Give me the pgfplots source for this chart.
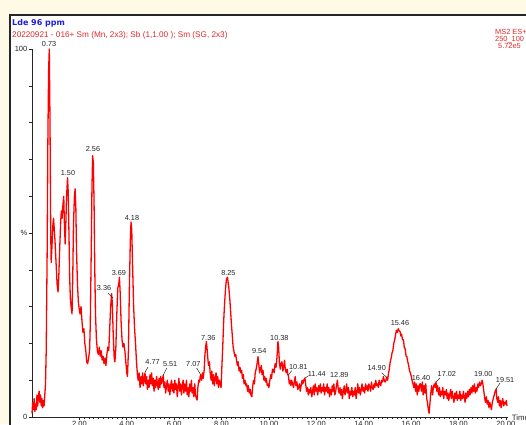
\documentclass[border=0pt]{standalone}
\usepackage{fontspec}
\setmainfont{Liberation Sans}
\newfontfamily\dejavu{DejaVu Sans}
\usepackage{pgfplots}
\usepackage{pgfplotstable}
\pgfplotsset{compat=1.18}
\definecolor{cream}{RGB}{255,250,230}
\definecolor{msred}{RGB}{255,0,0}
\definecolor{txtred}{RGB}{228,40,40}
\definecolor{txtblue}{RGB}{30,30,225}
\pgfplotstableread{
t v
0.00 1
0.03 4
0.06 2
0.09 5
0.12 1.5
0.15 3.5
0.18 2
0.21 6
0.24 3
0.27 5.5
0.30 7
0.33 4
0.36 6
0.39 3
0.42 5
0.45 2.5
0.48 4.5
0.51 3
0.54 6
0.57 9
0.60 18
0.64 45
0.67 75
0.70 94
0.73 100
0.76 80
0.79 50
0.81 42
0.84 46
0.88 52
0.91 54
0.94 51
0.97 48
1.00 44
1.03 40
1.06 36
1.10 34
1.13 38
1.17 46
1.21 53
1.24 56
1.27 54
1.31 58
1.34 60
1.37 52
1.40 47
1.43 53
1.46 60
1.50 65
1.53 61
1.56 50
1.59 38
1.62 32
1.65 30
1.69 28
1.72 38
1.75 52
1.79 60
1.82 62
1.85 57
1.88 45
1.92 36
1.96 31
2.00 29
2.03 28
2.07 30
2.11 26
2.15 23
2.19 24
2.23 20
2.27 18
2.31 15
2.35 14.5
2.39 16
2.43 18
2.46 25
2.50 45
2.53 62
2.56 71
2.59 69
2.62 58
2.65 40
2.68 28
2.72 21
2.76 18
2.80 17
2.84 19
2.88 16.5
2.92 18
2.96 15.5
3.00 16.5
3.04 14.5
3.08 16
3.12 14
3.16 17
3.20 19
3.24 18
3.28 24
3.32 30
3.36 33.5
3.39 31
3.43 22
3.47 16
3.50 15
3.54 19
3.58 28
3.62 35
3.66 36
3.69 38
3.72 34
3.76 26
3.80 21
3.84 19
3.88 20
3.92 18
3.96 15
4.00 12
4.03 11
4.07 18
4.11 35
4.15 48
4.18 53
4.21 51
4.25 40
4.29 30
4.33 24
4.37 20
4.41 15
4.45 11.5
4.48 10
4.52 12
4.56 8
4.60 11
4.63 9
4.67 12
4.70 8.5
4.74 10.5
4.77 12
4.80 9
4.84 11
4.87 7.5
4.91 10
4.94 8
4.98 11.5
5.01 9
5.05 12
5.08 8.5
5.12 10.5
5.15 7
5.19 10
5.22 8
5.26 11
5.29 9
5.33 7.5
5.36 10.5
5.40 8
5.43 11
5.47 9
5.50 10
5.54 11.4
5.57 8
5.61 9.5
5.64 6.5
5.68 8.5
5.71 10
5.75 7
5.78 9
5.82 6
5.85 8.5
5.89 10
5.92 7
5.96 9
5.99 6.5
6.03 10
6.06 7.5
6.10 9
6.13 5.5
6.17 8
6.20 10.5
6.24 7
6.27 9
6.31 6
6.34 8.5
6.38 10
6.41 6.5
6.45 9
6.48 7
6.52 10
6.55 6
6.59 8
6.62 5.5
6.66 9
6.69 7
6.73 10
6.76 6.5
6.80 8
6.83 5.5
6.87 9
6.90 6
6.94 5
6.97 4.6
7.00 8
7.04 10
7.07 9.5
7.10 11
7.13 11.4
7.16 10
7.20 12
7.23 10.5
7.27 13
7.30 17
7.33 19
7.36 20.5
7.39 18.5
7.42 16
7.45 14
7.49 15
7.52 12
7.56 10
7.59 12.5
7.63 9
7.66 11.5
7.70 8.5
7.73 10.5
7.77 12
7.80 9
7.84 11
7.87 8
7.91 10
7.94 9
7.98 8
8.01 13
8.05 19
8.09 26
8.13 31
8.17 35
8.21 37.5
8.25 38
8.28 36.5
8.31 35
8.35 32
8.38 29
8.42 25
8.45 22.5
8.49 19
8.52 18
8.56 16.5
8.60 17
8.63 15.5
8.67 14
8.70 15
8.74 12.5
8.78 13.5
8.81 12
8.85 12.7
8.88 10.5
8.92 11.5
8.95 9
8.99 10
9.03 8.5
9.06 9
9.10 7
9.13 8.5
9.17 6.5
9.21 7.5
9.24 6
9.28 5.5
9.31 8
9.35 10
9.39 9
9.42 12
9.46 13
9.50 14.5
9.54 16.4
9.57 14.5
9.61 12
9.64 13
9.68 14
9.71 11.5
9.75 12.7
9.79 10
9.82 11
9.86 9.5
9.89 10.5
9.93 8.5
9.97 9
10.00 8
10.04 10
10.08 11.5
10.11 10.5
10.15 13
10.19 12.8
10.22 12
10.26 14.5
10.30 13.5
10.33 15.4
10.36 18
10.38 20.5
10.41 19
10.44 15
10.48 13
10.51 14.5
10.55 15
10.59 12.5
10.62 13.5
10.66 15.4
10.69 13
10.73 12
10.77 13
10.80 11.4
10.82 11.4
10.86 9
10.89 10
10.93 8.5
10.96 10
11.00 9
11.04 8
11.07 9.5
11.11 11
11.14 8.5
11.18 9.5
11.22 7.5
11.25 8
11.29 9
11.32 7
11.36 8.5
11.40 10
11.43 9
11.47 10
11.52 10.6
11.55 9
11.59 7
11.63 8
11.66 6
11.70 7.5
11.73 6.5
11.77 8
11.81 5.5
11.84 7
11.88 8.5
11.91 6
11.95 9
11.99 7
12.02 8
12.06 6
12.10 8.5
12.13 7
12.17 9
12.20 6.5
12.24 8
12.28 7
12.31 9
12.35 6
12.38 8
12.42 7
12.46 9
12.49 6.5
12.53 8
12.56 5.5
12.60 7.5
12.64 6
12.67 8.5
12.71 7
12.74 9
12.78 6
12.82 7
12.85 8.5
12.89 10
12.92 8
12.96 6.5
13.00 8
13.03 6
13.07 7.5
13.10 5
13.14 7
13.18 8.5
13.21 6
13.25 7
13.28 9
13.32 6.5
13.36 8
13.39 5
13.43 7
13.46 6
13.50 8
13.54 5.5
13.57 7
13.61 6
13.64 8
13.68 5
13.72 7
13.75 9
13.79 6.5
13.82 8
13.86 6
13.90 7.5
13.93 9
13.97 7
14.00 8
14.04 6.5
14.08 9
14.11 7.5
14.15 8.5
14.18 7
14.22 9
14.26 8
14.29 7
14.33 9.5
14.36 8
14.40 7.5
14.44 9
14.47 8
14.51 10
14.54 8.5
14.58 9
14.62 8
14.65 10
14.69 9
14.72 8.5
14.76 10
14.80 9.5
14.83 11
14.87 10
14.90 9.5
14.94 10
14.97 10.8
15.01 10
15.05 12
15.08 13
15.12 15
15.16 16
15.20 17.5
15.23 18
15.27 20
15.31 21
15.35 22.5
15.38 23.6
15.42 23
15.46 24
15.49 23.5
15.53 23.3
15.57 22
15.60 22.5
15.64 21
15.68 21
15.71 19
15.75 18.5
15.79 16.5
15.82 16.5
15.86 15
15.90 14
15.93 12.7
15.97 12
16.01 11
16.04 10
16.08 9
16.12 8
16.15 9.5
16.19 7
16.22 9
16.26 6
16.30 8.5
16.33 7
16.37 9
16.40 9
16.44 7
16.48 9.5
16.51 6
16.55 8.5
16.58 6.5
16.62 9
16.66 5
16.69 4
16.73 2
16.76 1
16.80 4
16.84 7
16.87 8.5
16.91 6
16.94 8
16.98 9
17.02 8
17.05 9.5
17.09 7
17.12 8.5
17.16 6
17.20 8
17.23 5.5
17.27 7
17.31 6
17.34 8
17.38 5
17.41 7
17.45 6
17.49 7.5
17.52 5
17.56 6.5
17.59 4.5
17.63 6
17.67 7.5
17.70 5
17.74 7
17.77 5.5
17.81 4
17.85 6.5
17.88 5
17.92 7
17.95 4.5
17.99 6
18.03 5
18.06 7
18.10 4.5
18.13 6
18.17 5
18.21 7
18.24 5.5
18.28 4
18.31 6.5
18.35 5
18.39 7
18.42 5.5
18.46 7.5
18.49 6
18.53 8
18.57 6.5
18.60 8.5
18.64 7
18.67 9
18.71 6.5
18.75 8
18.78 7
18.82 9
18.85 8
18.89 9.5
18.93 8.5
18.96 9
19.00 10
19.03 9
19.07 7
19.11 5
19.14 4
19.18 5.5
19.21 3.5
19.25 4.5
19.29 2.5
19.32 4
19.36 3
19.39 2
19.43 4
19.47 5
19.51 6
19.55 7
19.59 7.6
19.62 5
19.66 4
19.69 5.5
19.73 3
19.77 4.5
19.80 2.5
19.84 4
19.87 5
19.91 3
19.95 4
19.98 3.5
20.02 4.5
20.05 3
}\chrom
\begin{document}
\begin{tikzpicture}[x=1pt,y=1pt]
\begin{scope}
\clip (0,0) rectangle (526,424);
\fill[cream] (0,0) rectangle (526,424);
\fill[white] (10,-5) rectangle (530,409);
\draw[black!85, line width=1.5pt] (10,-5) -- (10,409) -- (530,409);
\node[anchor=base west, inner sep=0pt, text=txtblue, font=\dejavu\bfseries\fontsize{8}{9}\selectfont] at (12,398.5) {Lde 96 ppm};
\node[anchor=base west, inner sep=0pt, text=txtred, font=\fontsize{8.2}{9}\selectfont] at (12,386.7) {20220921 - 016+ Sm (Mn, 2x3); Sb (1,1.00 ); Sm (SG, 2x3)};
\node[anchor=base west, inner sep=0pt, text=txtred, font=\fontsize{7.4}{8}\selectfont] at (495,389.5) {MS2 ES+};
\node[anchor=base west, inner sep=0pt, text=txtred, font=\fontsize{7.4}{8}\selectfont] at (495,382.8) {250\_100};
\node[anchor=base west, inner sep=0pt, text=txtred, font=\fontsize{7.4}{8}\selectfont] at (498,375.5) {5.72e5};
\node[anchor=west, inner sep=0pt, text=black!85, font=\fontsize{7.8}{8}\selectfont] at (511.7,6) {Time};
\begin{axis}[
  at={(32pt,7pt)}, anchor=south west,
  scale only axis, width=476.2pt, height=368pt,
  xmin=0, xmax=20.1, ymin=0, ymax=100,
  axis x line*=bottom, axis y line*=left,
  axis line style={-, black!85, line width=0.8pt},
  clip=false,
  tick align=outside,
  xtick={2,4,...,20},
  xticklabels={2.00,4.00,6.00,8.00,10.00,12.00,14.00,16.00,18.00,20.00},
  minor x tick num=9,
  ytick={0,10,...,100},
  yticklabels={0,,,,,\%,,,,,100},
  major tick length=3pt, minor tick length=1.6pt,
  tick style={black!85, line width=0.6pt},
  ticklabel style={font=\fontsize{7.5}{8}\selectfont, text=black!85},
  xticklabel style={inner sep=1pt},
  yticklabel style={inner sep=1.5pt},
]
\addplot[msred, line width=1.3pt, line join=round, no markers] table[x=t, y=v] {\chrom};
\begin{scope}[every node/.style={inner sep=0pt, text=black!85, font=\fontsize{7.3}{8}\selectfont}]
\node at (axis cs:0.72,101.4) {0.73};
\node at (axis cs:1.52,66.3) {1.50};
\node at (axis cs:2.575,72.8) {2.56};
\node at (axis cs:3.04,35.1) {3.36};
\node at (axis cs:3.67,39.1) {3.69};
\node at (axis cs:4.22,54.1) {4.18};
\node at (axis cs:5.09,15.0) {4.77};
\node at (axis cs:5.83,14.4) {5.51};
\node at (axis cs:6.81,14.4) {7.07};
\node at (axis cs:7.44,21.5) {7.36};
\node at (axis cs:8.29,39.2) {8.25};
\node at (axis cs:9.59,17.9) {9.54};
\node at (axis cs:10.44,21.5) {10.38};
\node at (axis cs:11.24,13.7) {10.81};
\node at (axis cs:12.02,11.7) {11.44};
\node at (axis cs:12.97,11.3) {12.89};
\node at (axis cs:14.55,13.2) {14.90};
\node at (axis cs:15.53,25.6) {15.46};
\node at (axis cs:16.42,10.6) {16.40};
\node at (axis cs:17.51,11.6) {17.02};
\node at (axis cs:19.05,11.6) {19.00};
\node at (axis cs:19.97,10.1) {19.51};
\end{scope}
\begin{scope}[black!85, line width=0.5pt]
\draw (axis cs:3.21,33.7) -- (axis cs:3.42,32.3);
\draw (axis cs:4.90,13.6) -- (axis cs:4.77,12.2);
\draw (axis cs:5.69,13.3) -- (axis cs:5.54,11.4);
\draw (axis cs:6.95,13.3) -- (axis cs:7.13,11.4);
\draw (axis cs:10.96,12.6) -- (axis cs:10.82,11.4);
\draw (axis cs:11.66,11.1) -- (axis cs:11.52,10.6);
\draw (axis cs:14.76,12.0) -- (axis cs:14.97,10.8);
\draw (axis cs:17.22,10.6) -- (axis cs:17.05,9.5);
\draw (axis cs:19.75,9.2) -- (axis cs:19.59,7.6);
\end{scope}
\end{axis}
\end{scope}
\pgfresetboundingbox
\useasboundingbox (0,0) rectangle (526,424);
\end{tikzpicture}
\end{document}
